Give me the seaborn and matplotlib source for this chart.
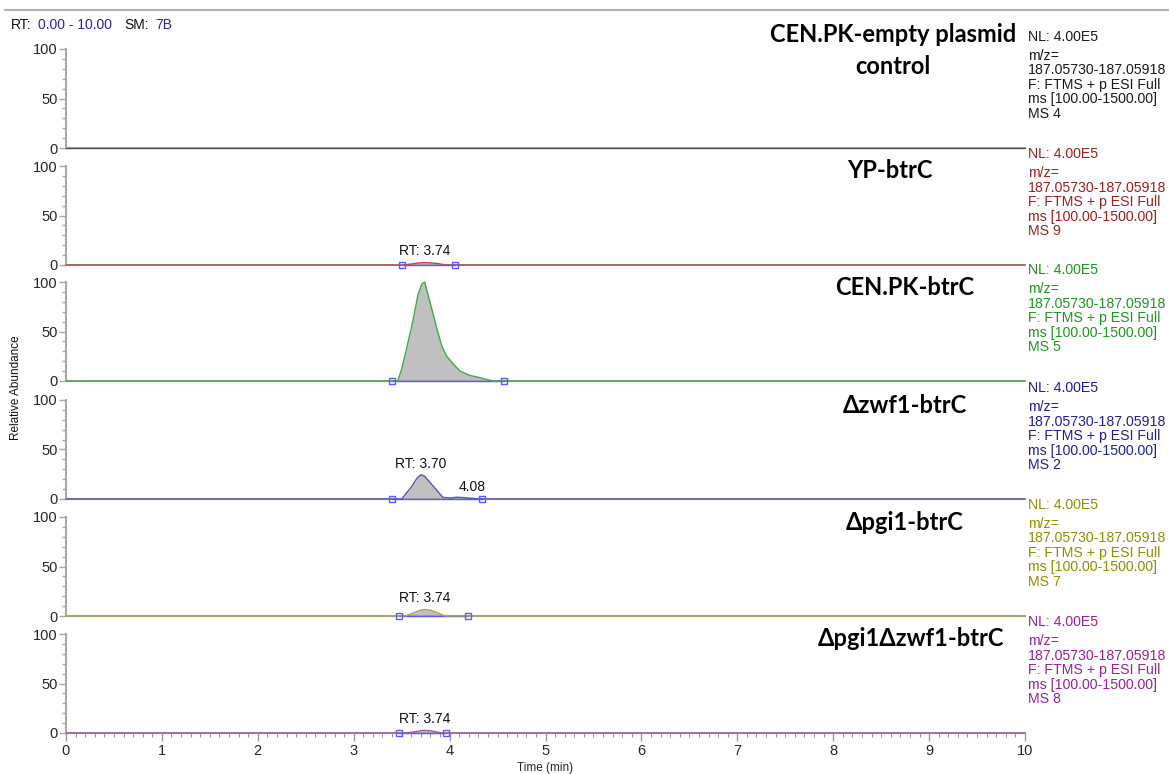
import matplotlib
matplotlib.use("Agg")
import matplotlib.pyplot as plt
from matplotlib.lines import Line2D
from matplotlib.ticker import MultipleLocator, FixedLocator
import seaborn as sns
import pandas as pd
import numpy as np

sns.set_style("white")
plt.rcParams['font.family'] = ['Liberation Sans', 'DejaVu Sans']

# ---------------- data ----------------
samples = ["CEN.PK-empty plasmid\ncontrol", "YP-btrC", "CEN.PK-btrC",
           "\u0394zwf1-btrC", "\u0394pgi1-btrC", "\u0394pgi1\u0394zwf1-btrC"]
ms_numbers = [4, 9, 5, 2, 7, 8]
nl_value = "4.00E5"
mz_range = "187.05730-187.05918"
scan_filter = "F: FTMS + p ESI Full"
ms_range = "ms [100.00-1500.00]"

t1 = [0.0, 10.0]
a1 = [0.0, 0.0]

t2 = [0.0, 3.52, 3.60, 3.68, 3.74, 3.80, 3.88, 3.96, 10.0]
a2 = [0.0, 0.0, 1.0, 2.1, 2.4, 2.2, 1.4, 0.0, 0.0]

t3 = [0.0, 3.46, 3.50, 3.55, 3.62, 3.67, 3.71, 3.74, 3.80, 3.87, 3.92, 3.97,
      4.04, 4.11, 4.21, 4.32, 4.45, 10.0]
a3 = [0.0, 0.0, 12.0, 32.0, 62.0, 87.0, 98.0, 100.0, 78.0, 52.0, 35.0, 25.0,
      17.0, 10.0, 5.7, 3.3, 0.0, 0.0]

t4 = [0.0, 3.50, 3.60, 3.66, 3.70, 3.74, 3.78, 3.87, 3.93, 4.00, 4.08, 4.16,
      4.25, 4.30, 10.0]
a4 = [0.0, 0.0, 12.0, 21.0, 24.5, 23.0, 18.5, 8.4, 1.7, 1.0, 1.8, 1.3,
      0.5, 0.0, 0.0]

t5 = [0.0, 3.54, 3.62, 3.70, 3.74, 3.80, 3.88, 3.95, 10.0]
a5 = [0.0, 0.0, 3.0, 6.0, 6.5, 6.0, 3.0, 0.0, 0.0]

t6 = [0.0, 3.55, 3.63, 3.70, 3.74, 3.80, 3.86, 3.92, 10.0]
a6 = [0.0, 0.0, 1.2, 2.3, 2.6, 2.3, 1.2, 0.0, 0.0]

times = [t1, t2, t3, t4, t5, t6]
abund = [a1, a2, a3, a4, a5, a6]

# integration boundaries (min)
bounds = [None, (3.50, 4.06), (3.40, 4.57), (3.40, 4.34), (3.47, 4.19), (3.47, 3.96)]
# apex labels: list of (rt, text)
apex_labels = [[], [(3.74, "RT: 3.74")], [], [(3.70, "RT: 3.70"), (4.08, "4.08")],
               [(3.74, "RT: 3.74")], [(3.74, "RT: 3.74")]]

x_ticks = [0, 1, 2, 3, 4, 5, 6, 7, 8, 9, 10]
y_ticks = [0, 50, 100]

# ---------------- style ----------------
text_colors = ["#1a1a1a", "#a11d1d", "#1d961d", "#1f1f96", "#8f8f00", "#991f99"]
trace_colors = ["#555555", "#c04848", "#45a845", "#5555b5", "#a5a545", "#a855a8"]
fill_color = "#c0c0c0"
marker_color = "#5a5aff"
axis_gray = "#a8a8a8"

W, H = 1169, 774
fig = plt.figure(figsize=(W / 100, H / 100), dpi=100)


def fx(px):
    return px / W


def fy(py):
    return 1 - py / H


left_px, right_px = 66, 1025
zero_px = [148, 265, 381, 499, 616, 733]
panel_h = 99
title_cx = [893, 890, 905, 905, 905, 911]

title_font = ['Lato', 'DejaVu Sans']
title_size = 17

for i in range(6):
    ax = fig.add_axes([fx(left_px), fy(zero_px[i]), (right_px - left_px) / W, panel_h / H])
    ax.set_xlim(0, 10)
    ax.set_ylim(0, 100)
    ax.patch.set_alpha(0)
    for s in ["top", "right"]:
        ax.spines[s].set_visible(False)
    ax.spines["left"].set_color(axis_gray)
    ax.spines["left"].set_linewidth(1.5)
    ax.spines["bottom"].set_color(axis_gray)
    ax.spines["bottom"].set_linewidth(1.5)

    ax.yaxis.set_major_locator(FixedLocator(y_ticks))
    ax.yaxis.set_minor_locator(MultipleLocator(10))
    ax.tick_params(axis="y", which="major", direction="out", length=5, width=1,
                   color=axis_gray, labelsize=10.5, pad=1, left=True)
    ax.tick_params(axis="y", which="minor", direction="out", length=3, width=1,
                   color=axis_gray, left=True)

    if i < 5:
        ax.set_xticks([])
    else:
        ax.xaxis.set_major_locator(FixedLocator(x_ticks))
        ax.xaxis.set_minor_locator(MultipleLocator(0.1))
        ax.tick_params(axis="x", which="major", direction="out", length=6, width=1,
                       color="#999999", labelsize=10.5, pad=2, bottom=True)
        ax.tick_params(axis="x", which="minor", direction="out", length=3, width=0.8,
                       color="#999999", bottom=True)

    t = np.array(times[i])
    a = np.array(abund[i])
    ax.fill_between(t, a, 0, color=fill_color, lw=0, zorder=2)

    if bounds[i] is not None:
        b0, b1 = bounds[i]
        ax.plot([b0, b1], [0, 0], color=marker_color, lw=1.0, zorder=3, clip_on=False)
        ax.plot([b0, b1], [0, 0], ls="none", marker="s", ms=5, mfc="none",
                mec=marker_color, mew=1.0, zorder=5, clip_on=False)

    df = pd.DataFrame({"t": t, "a": a})
    sns.lineplot(data=df, x="t", y="a", ax=ax, color=trace_colors[i], lw=1.0,
                 estimator=None, sort=False, zorder=4)
    ax.lines[-1].set_clip_on(False)
    ax.set_ylabel("")
    if i < 5:
        ax.set_xlabel("")
    else:
        ax.set_xlabel("Time (min)", fontsize=8.5, labelpad=3)

    for rt, lab in apex_labels[i]:
        peak = np.interp(rt, t, a)
        if lab.startswith("RT"):
            ax.annotate(lab, xy=(rt, peak), xytext=(0, 3), textcoords="offset points",
                        ha="center", va="bottom", fontsize=10, color="#111111")
        else:
            ax.annotate(lab, xy=(rt, peak), xytext=(1, 2), textcoords="offset points",
                        ha="left", va="bottom", fontsize=10, color="#111111")

    # sample title
    ty = zero_px[i] - panel_h
    if "\n" in samples[i]:
        l1, l2 = samples[i].split("\n")
        fig.text(fx(title_cx[i]), fy(ty - 14), l1, ha="center", va="center",
                 fontsize=title_size, fontweight="bold", family=title_font, color="#000000")
        fig.text(fx(title_cx[i]), fy(ty + 18), l2, ha="center", va="center",
                 fontsize=title_size, fontweight="bold", family=title_font, color="#000000")
    else:
        fig.text(fx(title_cx[i]), fy(ty + 5), samples[i], ha="center", va="center",
                 fontsize=title_size, fontweight="bold", family=title_font, color="#000000")

    # right info block
    top = zero_px[i] - 111
    lines = ["NL: " + nl_value, "m/z=", mz_range, scan_filter, ms_range,
             "MS " + str(ms_numbers[i])]
    offs = [0, 19, 33.5, 48, 62.5, 77]
    for ln, o in zip(lines, offs):
        fig.text(fx(1028), fy(top + o), ln, ha="left", va="center", fontsize=10.2,
                 color=text_colors[i])

# header
fig.add_artist(Line2D([fx(5), fx(1169)], [fy(10), fy(10)], color="#b0b0b0", lw=1.5))
fig.text(fx(11), fy(25), "RT:", ha="left", va="center", fontsize=10, color="#111111")
fig.text(fx(38), fy(25), "0.00 - 10.00", ha="left", va="center", fontsize=10, color="#2525b5")
fig.text(fx(124), fy(25), "SM:", ha="left", va="center", fontsize=10, color="#111111")
fig.text(fx(155), fy(25), "7B", ha="left", va="center", fontsize=10, color="#2525b5")

fig.text(fx(16), fy(388), "Relative Abundance", rotation=90, ha="center", va="center",
         fontsize=8.5, color="#111111")

fig.savefig("out.png", dpi=100)
